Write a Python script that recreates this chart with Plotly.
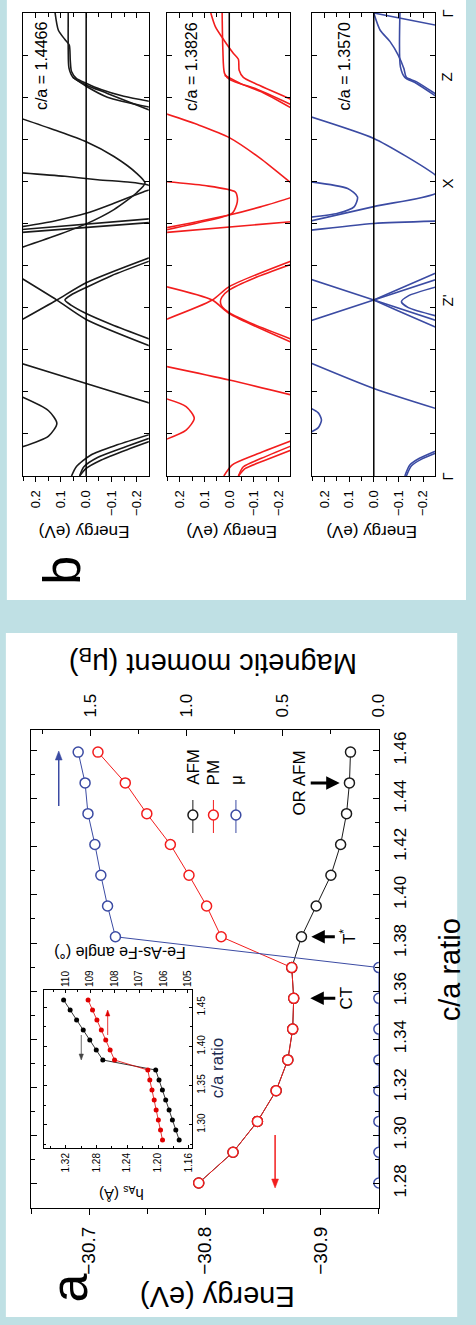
import plotly.graph_objects as go

W, H = 476, 1325
FONT = "Liberation Sans, Arial, sans-serif"
BG = "#bfe0e4"
C_BLK = "#1a1a1a"
C_RED = "#f21d1d"
C_BLU = "#3b4ba3"

# ---------------- Panel a : main data ----------------
ca_ratio = [1.2802, 1.2930, 1.3058, 1.3186, 1.3314, 1.3442, 1.3570, 1.3698,
            1.3826, 1.3954, 1.4082, 1.4210, 1.4338, 1.4466, 1.4594]
energy_pm = [-30.7945, -30.8241, -30.8452, -30.8613, -30.8714, -30.8756, -30.8765, -30.8748,
             -30.8139, -30.8013, -30.7861, -30.7700, -30.7497, -30.7311, -30.7075]
energy_afm = [-30.7945, -30.8241, -30.8452, -30.8613, -30.8714, -30.8756, -30.8765, -30.8748,
              -30.8832, -30.8959, -30.9086, -30.9170, -30.9221, -30.9246, -30.9255]
moment_mu = [0, 0, 0, 0, 0, 0, 0, 0,
             1.372, 1.413, 1.448, 1.479, 1.515, 1.530, 1.566]

# inset
inset_h_as = [1.1725, 1.1769, 1.1813, 1.1856, 1.1900, 1.1943, 1.1987, 1.2030,
              1.2717, 1.2802, 1.2886, 1.2971, 1.3057, 1.3141, 1.3226]
inset_angle = [106.04, 106.12, 106.21, 106.30, 106.38, 106.47, 106.56, 106.64,
               108.00, 108.18, 108.36, 108.54, 108.72, 108.90, 109.08]

# ---------------- Panel b : band structures (E in eV, k along path) ----------------
kpath_pos = [0.0, 0.418, 0.696, 0.948, 1.1]
kpath_lbl = ["Γ", "Z'", "X", "Z", "Γ"]
panel_ca = ["c/a = 1.4466", "c/a = 1.3826", "c/a = 1.3570"]

blk_gz1 = ([0.123, 0.110, 0.084, 0.067, 0.063, 0.058, 0.039, 0.0, -0.059, -0.149, -0.27],
           [1.10, 1.059, 1.037, 1.024, 0.988, 0.961, 0.945, 0.933, 0.918, 0.902, 0.888])
blk_gz2 = ([0.071, 0.071, 0.068, 0.052, 0.0, -0.084, -0.27],
           [1.10, 1.012, 0.969, 0.947, 0.929, 0.909, 0.865])
blk_gz3 = ([0.052, 0.0, -0.084, -0.27], [0.947, 0.926, 0.900, 0.874])
blk_p1 = ([0.27, 0.125, 0.0, -0.11, -0.2, -0.233, -0.2, -0.11, 0.0, 0.125, 0.27],
          [0.852, 0.822, 0.794, 0.759, 0.719, 0.696, 0.673, 0.633, 0.599, 0.570, 0.540])
blk_p2 = ([0.27, 0.084, -0.045, -0.174, -0.233, -0.27, -0.226, -0.11, 0.0, 0.125, 0.27],
          [0.721, 0.712, 0.704, 0.698, 0.693, 0.685, 0.675, 0.648, 0.624, 0.606, 0.591])
blk_s1 = ([0.27, -0.27], [0.585, 0.612])
blk_s2 = ([0.27, -0.27], [0.578, 0.603])
blk_zpa = ([0.27, 0.116, 0.0, -0.27], [0.475, 0.418, 0.372, 0.305])
blk_zpb = ([0.27, 0.116, 0.0, -0.27], [0.366, 0.418, 0.459, 0.523])
blk_zpc = ([-0.27, -0.1, 0.0, 0.06, 0.084, 0.06, 0.0, -0.1, -0.27],
           [0.515, 0.476, 0.448, 0.43, 0.418, 0.406, 0.386, 0.36, 0.321])
blk_zg = ([0.27, 0.0, -0.27], [0.270, 0.220, 0.170])
blk_pk = ([0.27, 0.149, 0.116, 0.149, 0.27], [0.192, 0.155, 0.125, 0.095, 0.066])
blk_g1 = ([0.058, 0.039, -0.019, -0.123, -0.27], [0.0, 0.022, 0.050, 0.074, 0.102])
blk_g2 = ([0.026, 0.009, -0.045, -0.149, -0.27], [0.0, 0.022, 0.044, 0.068, 0.094])
blk_g3 = ([0.026, 0.0, -0.06, -0.16, -0.27], [0.0, 0.018, 0.038, 0.062, 0.086])

red_gz1 = ([0.075, 0.056, 0.022, -0.017, -0.037, -0.040, -0.057, -0.103, -0.27],
           [1.10, 1.067, 1.036, 1.004, 0.990, 0.964, 0.947, 0.933, 0.89])
red_gz2 = ([0.029, 0.026, 0.019, -0.004, -0.103, -0.27], [1.10, 1.012, 0.956, 0.941, 0.921, 0.877])
red_gz3 = ([0.019, -0.05, -0.13, -0.27], [0.952, 0.931, 0.913, 0.868])
red_p1 = ([0.27, 0.12, 0.0, -0.13, -0.26, -0.30, -0.26, -0.13, 0.0, 0.27],
          [0.863, 0.833, 0.804, 0.753, 0.692, 0.678, 0.664, 0.640, 0.620, 0.588])
red_p2 = ([0.27, 0.1, -0.024, -0.033, -0.03, -0.011, 0.1, 0.27],
          [0.700, 0.690, 0.675, 0.660, 0.645, 0.624, 0.605, 0.583])
red_s1 = ([0.27, -0.27], [0.578, 0.605])
red_zpa = ([0.27, 0.069, 0.0, -0.27], [0.452, 0.418, 0.386, 0.313])
red_zpb = ([0.27, 0.069, 0.0, -0.27], [0.369, 0.418, 0.450, 0.515])
red_zpc = ([-0.27, -0.1, 0.0, 0.03, 0.036, 0.03, 0.0, -0.1, -0.27],
           [0.507, 0.47, 0.442, 0.425, 0.414, 0.403, 0.388, 0.36, 0.321])
red_zg = ([0.27, 0.0, -0.27], [0.262, 0.228, 0.190])
red_pk = ([0.27, 0.175, 0.142, 0.175, 0.27], [0.186, 0.165, 0.137, 0.109, 0.084])
red_g1 = ([0.022, -0.011, -0.103, -0.27], [0.0, 0.026, 0.05, 0.088])
red_g2 = ([-0.037, -0.057, -0.13, -0.27], [0.0, 0.022, 0.042, 0.076])
red_g3 = ([-0.037, -0.065, -0.14, -0.27], [0.0, 0.018, 0.036, 0.066])

blu_gz1 = ([0.0, -0.27], [1.10, 1.069])
blu_gz2 = ([0.0, -0.026, -0.066, -0.099, -0.122, -0.132, -0.172, -0.27],
           [1.10, 1.059, 1.032, 1.0, 0.968, 0.947, 0.937, 0.90])
blu_gz3 = ([-0.106, -0.108, -0.126, -0.172, -0.27], [1.10, 0.972, 0.947, 0.933, 0.895])
blu_p1 = ([0.27, 0.0, -0.13, -0.25, -0.29, -0.25, 0.0, 0.27],
          [0.856, 0.802, 0.760, 0.715, 0.693, 0.671, 0.640, 0.604])
blu_p2 = ([0.27, 0.106, 0.066, 0.079, 0.146, 0.27], [0.700, 0.683, 0.663, 0.640, 0.624, 0.614])
blu_s1 = ([0.27, 0.0, -0.27], [0.583, 0.600, 0.606])
blu_zpa = ([0.27, 0.0, -0.27], [0.470, 0.418, 0.366])
blu_zpb = ([0.27, 0.0, -0.27], [0.366, 0.418, 0.470])
blu_zpc = ([0.0, -0.093, -0.27], [0.418, 0.394, 0.349])
blu_zpd = ([0.0, -0.093, -0.27], [0.418, 0.442, 0.487])
blu_zpe = ([-0.27, -0.14, -0.112, -0.14, -0.27], [0.452, 0.428, 0.414, 0.400, 0.378])
blu_zg = ([0.27, 0.0, -0.27], [0.272, 0.208, 0.157])
blu_pk = ([0.27, 0.225, 0.212, 0.225, 0.27], [0.165, 0.150, 0.133, 0.115, 0.100])
blu_g1 = ([-0.126, -0.146, -0.185, -0.27], [0.0, 0.026, 0.042, 0.064])
blu_g2 = ([-0.132, -0.152, -0.19, -0.27], [0.0, 0.024, 0.039, 0.059])

black_bands = [blk_gz1, blk_gz2, blk_gz3, blk_p1, blk_p2, blk_s1, blk_s2, blk_zpa, blk_zpb,
               blk_zpc, blk_zg, blk_pk, blk_g1, blk_g2, blk_g3]
red_bands = [red_gz1, red_gz2, red_gz3, red_p1, red_p2, red_s1, red_zpa, red_zpb, red_zpc,
             red_zg, red_pk, red_g1, red_g2, red_g3]
blue_bands = [blu_gz1, blu_gz2, blu_gz3, blu_p1, blu_p2, blu_s1, blu_zpa, blu_zpb, blu_zpc,
              blu_zpd, blu_zpe, blu_zg, blu_pk, blu_g1, blu_g2]


def P(x):
    return x / W


def Q(y):
    return 1 - y / H


fig = go.Figure()

# ---- main panel traces
fig.add_trace(go.Scatter(x=energy_afm, y=ca_ratio, mode="lines+markers", xaxis="x", yaxis="y",
                         line=dict(color=C_BLK, width=1),
                         marker=dict(symbol="circle", size=10, color="white",
                                     line=dict(color=C_BLK, width=1.5))))
fig.add_trace(go.Scatter(x=energy_pm, y=ca_ratio, mode="lines+markers", xaxis="x", yaxis="y",
                         line=dict(color=C_RED, width=1),
                         marker=dict(symbol="circle", size=10, color="white",
                                     line=dict(color=C_RED, width=1.5))))
fig.add_trace(go.Scatter(x=moment_mu, y=ca_ratio, mode="lines+markers", xaxis="x2", yaxis="y",
                         line=dict(color=C_BLU, width=1),
                         marker=dict(symbol="circle", size=10, color="white",
                                     line=dict(color=C_BLU, width=1.5))))

# ---- inset traces
fig.add_trace(go.Scatter(x=inset_h_as, y=ca_ratio, mode="lines+markers", xaxis="x3", yaxis="y2",
                         line=dict(color="black", width=0.8),
                         marker=dict(size=5, color="black")))
fig.add_trace(go.Scatter(x=inset_angle, y=ca_ratio, mode="lines+markers", xaxis="x4", yaxis="y2",
                         line=dict(color="#e00000", width=0.8),
                         marker=dict(size=5, color="#e00000")))

# ---- band structures
for i, (bands, col) in enumerate([(black_bands, C_BLK), (red_bands, C_RED), (blue_bands, C_BLU)]):
    for e, k in bands:
        fig.add_trace(go.Scatter(x=e, y=k, mode="lines", xaxis=f"x{5+i}", yaxis=f"y{3+i}",
                                 line=dict(color=col, width=1.6, shape="spline", smoothing=0.7)))
    fig.add_trace(go.Scatter(x=[None], y=[None], mode="lines", xaxis=f"x{8+i}", yaxis=f"y{3+i}"))

common = dict(showline=True, linecolor="black", linewidth=1.2, showgrid=False, zeroline=False,
              tickcolor="black", tickwidth=1.2)


def tf(size, color="black"):
    return dict(family=FONT, size=size, color=color)


layout_axes = dict(
    xaxis=dict(common, domain=[P(32), P(387)], anchor="y", range=[-30.65, -30.95], tick0=-30.7,
               dtick=0.1, tickformat=".1f", ticks="outside", ticklen=6, tickangle=-90,
               tickfont=tf(19), ticklabelstandoff=4,
               minor=dict(dtick=0.05, ticks="outside", ticklen=5, tickcolor="black", tickwidth=1.2)),
    xaxis2=dict(common, overlaying="x", side="top", anchor="y", range=[1.81, 0], tick0=0, dtick=0.5,
                tickformat=".1f", ticks="inside", ticklen=6, tickangle=-90, tickfont=tf(17),
                ticklabelstandoff=8,
                minor=dict(dtick=0.25, ticks="inside", ticklen=4, tickcolor="black", tickwidth=1.2)),
    yaxis=dict(common, domain=[Q(1208), Q(730)], anchor="x", side="right", range=[1.2698, 1.4686],
               tick0=1.28, dtick=0.02, tickformat=".2f", ticks="inside", ticklen=6, mirror="ticks",
               tickangle=-90, tickfont=tf(17), ticklabelstandoff=6,
               minor=dict(dtick=0.01, ticks="inside", ticklen=4, tickcolor="black", tickwidth=1.2)),
    xaxis3=dict(common, domain=[P(45), P(196)], anchor="y2", range=[1.348, 1.156], tick0=1.16,
                dtick=0.04, tickformat=".2f", ticks="inside", ticklen=3, tickangle=-90,
                tickfont=tf(10), linewidth=1,
                minor=dict(dtick=0.02, ticks="inside", ticklen=2, tickcolor="black")),
    xaxis4=dict(common, overlaying="x3", side="top", anchor="y2", range=[110.88, 104.84], tick0=105,
                dtick=1, tickformat="d", ticks="inside", ticklen=3, tickangle=-90, tickfont=tf(10),
                linewidth=1,
                minor=dict(dtick=0.5, ticks="inside", ticklen=2, tickcolor="black")),
    yaxis2=dict(common, domain=[Q(1148), Q(990)], anchor="x3", side="right", range=[1.270, 1.4722],
                tick0=1.30, dtick=0.05, tickformat=".2f", ticks="inside", ticklen=3, mirror="ticks",
                tickangle=-90, tickfont=tf(10), linewidth=1,
                minor=dict(dtick=0.025, ticks="inside", ticklen=2, tickcolor="black")),
)

frames = [(23, 152), (170.7, 296.7), (318.3, 444.3)]
for i, (l, r) in enumerate(frames):
    layout_axes[f"xaxis{5+i}"] = dict(common, domain=[P(l), P(r)], anchor=f"y{3+i}",
                                      range=[0.252, -0.248], tick0=0, dtick=0.1, tickformat=".1f",
                                      ticks="outside", ticklen=5, tickangle=-90, tickfont=tf(13),
                                      ticklabelstandoff=3,
                                      minor=dict(dtick=0.05, ticks="outside", ticklen=4,
                                                 tickcolor="black", tickwidth=1.2))
    layout_axes[f"xaxis{8+i}"] = dict(common, overlaying=f"x{5+i}", side="top", anchor=f"y{3+i}",
                                      range=[0.252, -0.248], tick0=0, dtick=0.1, ticks="inside",
                                      ticklen=5, showticklabels=False,
                                      minor=dict(dtick=0.05, ticks="inside", ticklen=4,
                                                 tickcolor="black", tickwidth=1.2))
    layout_axes[f"yaxis{3+i}"] = dict(common, domain=[Q(476), Q(13)], anchor=f"x{5+i}",
                                      range=[0, 1.1], tick0=0, dtick=0.1, ticks="inside", ticklen=5,
                                      mirror="ticks", showticklabels=False)

shapes = [
    dict(type="rect", xref="paper", yref="paper", x0=P(7), x1=1, y0=Q(600), y1=1,
         fillcolor="white", line=dict(width=0), layer="below"),
    dict(type="rect", xref="paper", yref="paper", x0=P(6), x1=P(467), y0=Q(1317), y1=Q(633),
         fillcolor="white", line=dict(width=0), layer="below"),
]
for i in range(3):
    shapes.append(dict(type="line", xref=f"x{5+i}", yref=f"y{3+i} domain", x0=0, x1=0, y0=0, y1=1,
                       line=dict(color="black", width=1.5)))


def v_arrow(x, y_tail, y_head, color, width, hw, hl):
    """Vertical arrow decoration drawn in pixel-derived paper coordinates."""
    sgn = 1 if y_head > y_tail else -1
    yb = y_head - sgn * hl
    out = [dict(type="line", xref="paper", yref="paper", x0=P(x), x1=P(x), y0=Q(y_tail), y1=Q(yb),
                line=dict(color=color, width=width))]
    path = (f"M {P(x - hw)} {Q(yb)} L {P(x + hw)} {Q(yb)} L {P(x)} {Q(y_head)} Z")
    out.append(dict(type="path", xref="paper", yref="paper", path=path, fillcolor=color,
                    line=dict(color=color, width=0.5)))
    return out


shapes += v_arrow(281, 1135, 1188, C_RED, 1.5, 3.5, 9)
shapes += v_arrow(60, 806, 751, C_BLU, 1.5, 3.5, 9)
shapes += v_arrow(83, 1035, 1060, "#444", 0.8, 2.2, 6)
shapes += v_arrow(110, 1035, 1010, "#e00000", 0.8, 2.2, 6)

# manual legend (rotated)
leg_items = [("AFM", C_BLK, 197), ("PM", C_RED, 218), ("μ", C_BLU, 241)]
annotations = []
for name, col, xp in leg_items:
    shapes.append(dict(type="line", xref="paper", yref="paper", x0=P(xp), x1=P(xp),
                       y0=Q(800), y1=Q(833), line=dict(color=col, width=1)))
    shapes.append(dict(type="circle", xref="paper", yref="paper", x0=P(xp - 5), x1=P(xp + 5),
                       y0=Q(820), y1=Q(810), fillcolor="white", line=dict(color=col, width=1.5)))
    annotations.append(dict(text=name, xref="paper", yref="paper", x=P(xp), y=Q(787),
                            xanchor="center", yanchor="bottom", textangle=-90, showarrow=False,
                            font=tf(17)))


def lab(text, x, y, angle, size, color="black"):
    return dict(text=text, xref="paper", yref="paper", x=P(x), y=Q(y), xanchor="center",
                yanchor="middle", textangle=angle, showarrow=False, font=tf(size, color))


# axis titles and labels (rotated like the source)
annotations += [
    lab("Magnetic moment (μ<sub>B</sub>)", 217, 662, 180, 29),
    lab("Energy (eV)", 222, 1297, 180, 29),
    lab("c/a ratio", 460, 970, -90, 29),
    lab("a", 70, 1288, -90, 52),
    lab("b", 63, 570, -90, 52),
    lab("h<sub>As</sub> (Å)", 124, 1194, 180, 15),
    lab("Fe-As-Fe angle (°)", 122, 953, 180, 16),
    lab("c/a ratio", 222, 1068, -90, 17, "#1c2a50"),
]
# arrows with labels
for txt, e, ca, axp in [("CT", -30.8908, 1.3570, 36), ("T<sup>*</sup>", -30.8917, 1.3826, 36),
                        ("OR AFM", -30.9162, 1.4466, -40)]:
    annotations.append(dict(text=txt, xref="x", yref="y", x=e, y=ca, ax=axp, ay=0, textangle=-90,
                            xanchor="center", yanchor="middle", showarrow=True, arrowhead=2,
                            arrowsize=0.9, arrowwidth=3, arrowcolor="black", font=tf(17)))

# panel b labels
band_title_x = [86, 237, 380]
ca_text_x = [43, 196, 352]
for i in range(3):
    annotations.append(lab("Energy (eV)", band_title_x[i], 532, 180, 17))
    annotations.append(lab(panel_ca[i], ca_text_x[i], 66, -90, 16))
for kp, lb in zip(kpath_pos, kpath_lbl):
    annotations.append(dict(text=lb, xref="paper", yref="y5", x=P(457), y=kp, textangle=-90,
                            xanchor="center", yanchor="middle", showarrow=False, font=tf(15)))

fig.update_layout(
    width=W, height=H, margin=dict(l=0, r=0, t=0, b=0),
    paper_bgcolor=BG, plot_bgcolor="white", showlegend=False,
    font=dict(family=FONT, color="black"),
    shapes=shapes, annotations=annotations, **layout_axes,
)

fig.write_html("out.html")
